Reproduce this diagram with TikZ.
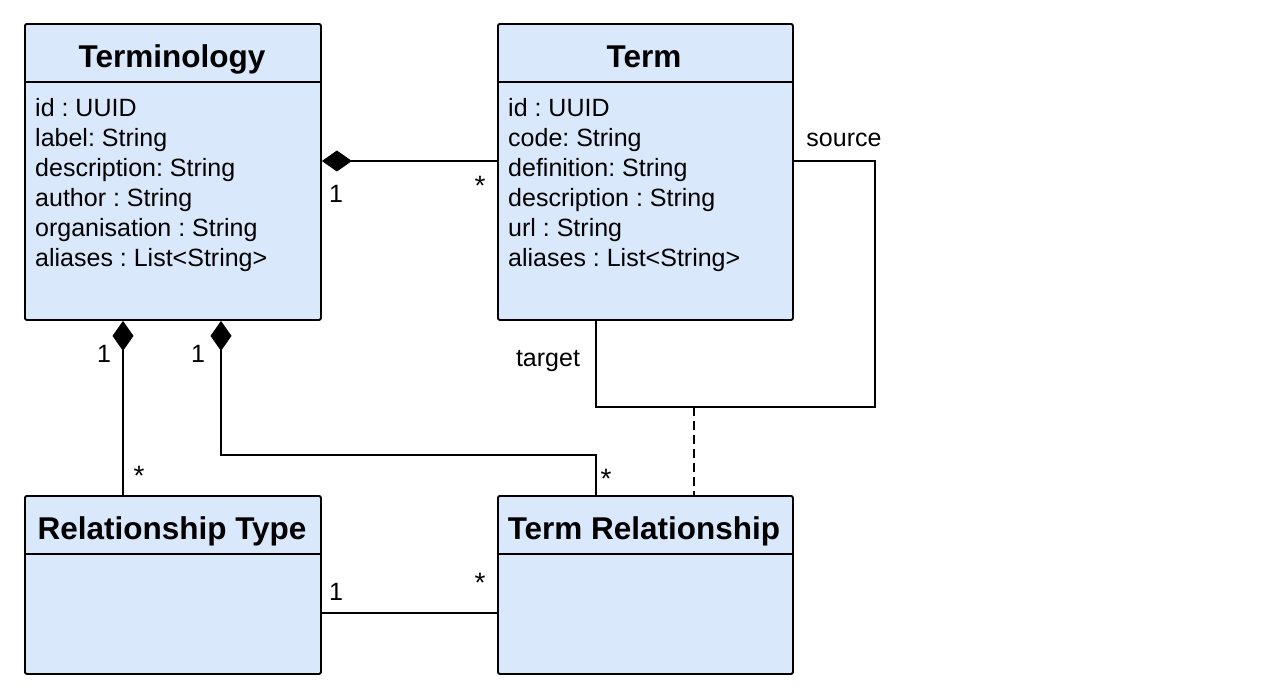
\documentclass[tikz,border=0pt]{standalone}
\usepackage{fontspec}
\setmainfont{Liberation Sans}
\usetikzlibrary{arrows.meta}
\definecolor{boxfill}{HTML}{DAE8FC}
\frenchspacing
\tikzset{
  classbox/.style={draw=black, fill=boxfill, line width=1.9pt, rounded corners=2pt, inner sep=0pt, anchor=north west},
  conn/.style={line width=1.9pt},
  comp/.style={{Diamond[length=30pt,width=21pt]}-},
  body/.style={font=\fontsize{25}{30}\selectfont, inner sep=0pt, anchor=base west},
  title/.style={font=\fontsize{31.5}{38}\selectfont\bfseries, inner sep=0pt, anchor=base},
  lbl/.style={font=\fontsize{25}{30}\selectfont, inner sep=0pt},
  star/.style={font=\fontsize{28}{30}\selectfont, inner sep=0pt},
}
\begin{document}
\begin{tikzpicture}[x=1pt,y=-1pt]
\useasboundingbox[fill=white] (0,0) rectangle (1287,697);
% boxes
\node[classbox, minimum width=296pt, minimum height=296pt] (terminology) at (24,23) {};
\node[classbox, minimum width=295pt, minimum height=296pt] (term) at (497,23) {};
\node[classbox, minimum width=296pt, minimum height=178pt] (reltype) at (24,495) {};
\node[classbox, minimum width=295pt, minimum height=178pt] (termrel) at (497,495) {};
% dividers
\draw[conn] (terminology.west |- 0,82) -- (terminology.east |- 0,82);
\draw[conn] (term.west |- 0,82) -- (term.east |- 0,82);
\draw[conn] (reltype.west |- 0,554) -- (reltype.east |- 0,554);
\draw[conn] (termrel.west |- 0,554) -- (termrel.east |- 0,554);
% titles
\node[title] (t1) at (172,67) {Terminology};
\node[title] (t2) at (644,67) {Term};
\node[title] (t3) at (172,539) {Relationship Type};
\node[title] (t4) at (644,539) {Term Relationship};
% attributes
\foreach \txt [count=\i] in {id : UUID, label: String, description: String, author : String, organisation : String, {aliases : List<String>}}
  \node[body] (a\i) at (35,{116+30*(\i-1)}) {\txt};
\foreach \txt [count=\i] in {id : UUID, code: String, definition: String, description : String, url : String, {aliases : List<String>}}
  \node[body] (b\i) at (508,{116+30*(\i-1)}) {\txt};
% connectors
\draw[conn, comp] (terminology.east |- 0,161) -- (term.west |- 0,161);
\draw[conn, comp] (terminology.south -| 123,0) -- (reltype.north -| 123,0);
\draw[conn, comp] (terminology.south -| 221,0) -- (221,455) -- (596,455) -- (termrel.north -| 596,0);
\draw[conn] (reltype.east |- 0,613) -- (termrel.west |- 0,613);
\draw[conn] (term.south -| 596,0) -- (596,407) -- (875,407) -- (875,161) -- (term.east |- 0,161);
\coordinate (assoc) at (694,407);
\draw[conn, dash pattern=on 9pt off 5pt] (assoc) -- (termrel.north -| 694,0);
% labels
\node[lbl] (l1) at (336,194) {1};
\node[star] (l2) at (480,186) {*};
\node[lbl] (l3) at (104,354) {1};
\node[star] (l4) at (139,476) {*};
\node[lbl] (l5) at (198,354) {1};
\node[star] (l6) at (606,479) {*};
\node[lbl] (l7) at (336,592) {1};
\node[star] (l8) at (480,583) {*};
\node[lbl] (l9) at (548,361) {target};
\node[lbl] (l10) at (844,140) {source};
\end{tikzpicture}
\end{document}
